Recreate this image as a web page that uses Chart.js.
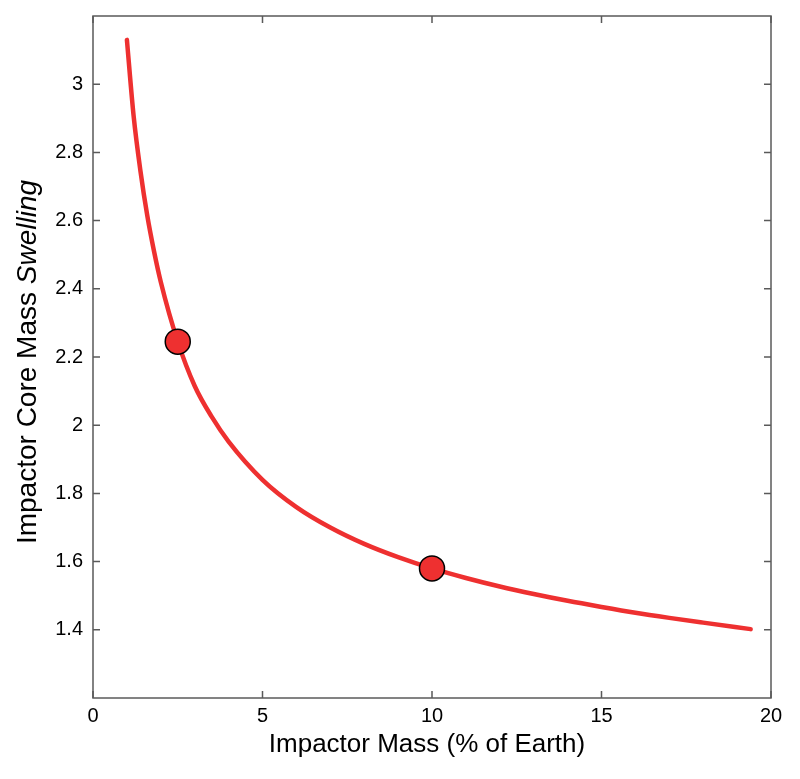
<!DOCTYPE html>
<html>
<head>
<meta charset="utf-8">
<script src="https://cdn.jsdelivr.net/npm/chart.js@4"></script>
<style>
  html, body { margin: 0; padding: 0; background: #ffffff; }
  #wrap { width: 800px; height: 779px; }
</style>
</head>
<body>
<div id="wrap"><canvas id="c" width="800" height="779"></canvas></div>
<script>
// Data
const curveX = [1, 1.2, 1.4, 1.6, 1.8, 2, 2.5, 3, 3.5, 4, 5, 6, 7, 8, 9, 10, 11, 12, 13, 14, 15, 16, 17, 18, 19.4];
const curveY = [3.13, 2.905, 2.745, 2.615, 2.51, 2.42, 2.245, 2.115, 2.025, 1.952, 1.84, 1.76, 1.70, 1.652, 1.613, 1.58, 1.552, 1.527, 1.505, 1.485, 1.467, 1.45, 1.435, 1.421, 1.402];
const markerX = [2.5, 10];
const markerY = [2.245, 1.58];
const xTicks = [0, 5, 10, 15, 20];
const yTicks = [1.4, 1.6, 1.8, 2, 2.2, 2.4, 2.6, 2.8, 3];
const xTitle = 'Impactor Mass (% of Earth)';
const yTitleRegular = 'Impactor Core Mass ';
const yTitleItalic = 'Swelling';

const FONT = "'Liberation Sans', Arial, Helvetica, sans-serif";
const RED = '#ee3030';
const FRAME = '#5a5a5a';

const curveData = curveX.map((x, i) => ({ x: x, y: curveY[i] }));
const markerData = markerX.map((x, i) => ({ x: x, y: markerY[i] }));

const framePlugin = {
  id: 'frame',
  beforeDatasetsDraw(chart) {
    const ctx = chart.ctx;
    const a = chart.chartArea;
    const xs = chart.scales.x, ys = chart.scales.y;
    const tl = 7;
    ctx.save();
    ctx.strokeStyle = FRAME;
    ctx.lineWidth = 1.5;
    ctx.strokeRect(a.left, a.top, a.right - a.left, a.bottom - a.top);
    ctx.beginPath();
    xTicks.forEach(v => {
      const px = xs.getPixelForValue(v);
      ctx.moveTo(px, a.bottom); ctx.lineTo(px, a.bottom - tl);
      ctx.moveTo(px, a.top); ctx.lineTo(px, a.top + tl);
    });
    yTicks.forEach(v => {
      const py = ys.getPixelForValue(v);
      ctx.moveTo(a.left, py); ctx.lineTo(a.left + tl, py);
      ctx.moveTo(a.right, py); ctx.lineTo(a.right - tl, py);
    });
    ctx.stroke();
    ctx.restore();
  },
  afterDraw(chart) {
    const ctx = chart.ctx;
    const a = chart.chartArea;
    ctx.save();
    ctx.fillStyle = '#000';
    // x title
    ctx.font = '26px ' + FONT;
    ctx.textAlign = 'center';
    ctx.textBaseline = 'alphabetic';
    ctx.fillText(xTitle, (a.left + a.right) / 2 - 5, 752);
    // y title (mixed regular / italic)
    const regFont = '28px ' + FONT;
    const itFont = 'italic 28px ' + FONT;
    ctx.font = regFont;
    const w1 = ctx.measureText(yTitleRegular).width;
    ctx.font = itFont;
    const w2 = ctx.measureText(yTitleItalic).width;
    const total = w1 + w2;
    ctx.translate(36, 362);
    ctx.rotate(-Math.PI / 2);
    ctx.textAlign = 'left';
    ctx.font = regFont;
    ctx.fillText(yTitleRegular, -total / 2, 0);
    ctx.font = itFont;
    ctx.fillText(yTitleItalic, -total / 2 + w1, 0);
    ctx.restore();
  }
};

new Chart(document.getElementById('c'), {
  type: 'scatter',
  data: {
    datasets: [
      {
        data: markerData,
        showLine: false,
        pointRadius: 12.5,
        pointHoverRadius: 12.5,
        pointBackgroundColor: RED,
        pointBorderColor: '#000',
        pointBorderWidth: 1.5,
        order: 0
      },
      {
        data: curveData,
        showLine: true,
        borderColor: RED,
        borderWidth: 4.5,
        pointRadius: 0,
        cubicInterpolationMode: 'monotone',
        borderCapStyle: 'round',
        fill: false,
        order: 1
      }
    ]
  },
  plugins: [framePlugin],
  options: {
    responsive: false,
    animation: false,
    devicePixelRatio: 1,
    layout: { padding: { top: 16, right: 29, left: 0, bottom: 0 } },
    plugins: { legend: { display: false }, tooltip: { enabled: false } },
    scales: {
      x: {
        type: 'linear',
        min: 0, max: 20,
        afterBuildTicks(scale) { scale.ticks = xTicks.map(v => ({ value: v })); },
        afterFit(scale) { scale.height = 81; },
        grid: { display: false, drawTicks: false },
        border: { display: false },
        ticks: {
          padding: 6,
          color: '#000',
          font: { family: FONT, size: 20 },
          maxRotation: 0,
          callback: v => String(v)
        }
      },
      y: {
        type: 'linear',
        min: 1.2, max: 3.2,
        afterBuildTicks(scale) { scale.ticks = yTicks.map(v => ({ value: v })); },
        afterFit(scale) { scale.width = 93; scale.paddingTop = 0; scale.paddingBottom = 0; },
        grid: { display: false, drawTicks: false },
        border: { display: false },
        ticks: {
          padding: 10,
          color: '#000',
          font: { family: FONT, size: 20 },
          callback: v => String(Math.round(v * 10) / 10)
        }
      }
    }
  }
});
</script>
</body>
</html>
